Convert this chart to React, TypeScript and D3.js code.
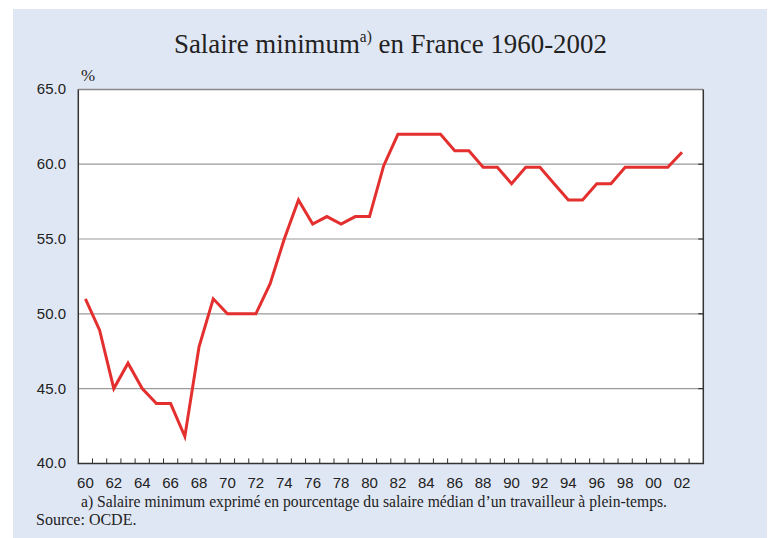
import React from 'react';
import * as d3 from 'd3';

// minimum wage as % of median full-time wage, France
const years = d3.range(1960, 2003);
const values = [
  51.0, 48.9, 45.0, 46.7, 45.0, 44.0, 44.0, 41.8, 47.8, 51.0,
  50.0, 50.0, 50.0, 52.0, 55.0, 57.6, 56.0, 56.5, 56.0, 56.5,
  56.5, 59.9, 62.0, 62.0, 62.0, 62.0, 60.9, 60.9, 59.8, 59.8,
  58.7, 59.8, 59.8, 58.7, 57.6, 57.6, 58.7, 58.7, 59.8, 59.8,
  59.8, 59.8, 60.8,
];
const yTicks = [40, 45, 50, 55, 60, 65];
const xLabels = years.filter(y => y % 2 === 0);

const W = 771;
const H = 538;
const plot = { left: 78.3, right: 703.3, top: 89.4, bottom: 463.4 };

const App = () => {
  const x = d3.scaleLinear().domain([1959.5, 2003.5]).range([plot.left, plot.right]);
  const y = d3.scaleLinear().domain([40, 65]).range([plot.bottom, plot.top]);

  const line = d3.line<number>()
    .x((_, i) => x(years[i]))
    .y(d => y(d));

  const sans = '"Liberation Sans", Arial, sans-serif';
  const serif = '"Liberation Serif", "Times New Roman", serif';

  return (
    <svg width={W} height={H} style={{ position: 'absolute', left: 0, top: 0 }}>
      <rect x={0} y={0} width={W} height={H} fill="#ffffff" />
      <text x={13} y={-4} fontFamily={serif} fontWeight="bold" fontSize={14} fill="#333">g</text>
      <rect x={13} y={9} width={754} height={H - 9} fill="#e0e7f4" />

      <g transform="translate(174,53) scale(0.96,1)">
        <text x={0} y={0} fontFamily={serif} fontSize={28} fill="#222">
          Salaire minimum
          <tspan dy={-11} fontSize={16}>a)</tspan>
          <tspan dy={11}> en France 1960-2002</tspan>
        </text>
      </g>

      <text x={88} y={81} fontFamily={serif} fontSize={17} fill="#222" textAnchor="middle">%</text>

      <rect x={plot.left} y={plot.top} width={plot.right - plot.left} height={plot.bottom - plot.top} fill="#ffffff" />

      {yTicks.filter(t => t > 40 && t < 65).map(t => (
        <g key={t}>
          <line x1={plot.left} x2={plot.right} y1={y(t)} y2={y(t)} stroke="#9a9a9a" strokeWidth={1.2} />
          <line x1={plot.right - 5} x2={plot.right} y1={y(t)} y2={y(t)} stroke="#333" strokeWidth={1.2} />
        </g>
      ))}
      <line x1={plot.left} x2={plot.right} y1={plot.top} y2={plot.top} stroke="#888" strokeWidth={1.5} />

      {years.map(yr => (
        <line key={yr} x1={x(yr + 0.5)} x2={x(yr + 0.5)} y1={plot.bottom} y2={plot.bottom - 5} stroke="#333" strokeWidth={1} />
      ))}

      <path d={`M${plot.left},${plot.top}V${plot.bottom}H${plot.right}V${plot.top}`} fill="none" stroke="#333" strokeWidth={1.5} />

      {yTicks.map(t => (
        <text key={t} x={66} y={y(t) + 5} fontFamily={sans} fontSize={15} fill="#222" textAnchor="end">
          {t.toFixed(1)}
        </text>
      ))}

      {xLabels.map(yr => (
        <text key={yr} x={x(yr)} y={488} fontFamily={sans} fontSize={15} fill="#222" textAnchor="middle">
          {String(yr % 100).padStart(2, '0')}
        </text>
      ))}

      <path d={line(values) || ''} fill="none" stroke="#e3302f" strokeWidth={3} strokeLinejoin="miter" />

      <text x={81} y={507} fontFamily={serif} fontSize={16} fill="#222" textLength={586} lengthAdjust="spacingAndGlyphs">
        a) Salaire minimum exprimé en pourcentage du salaire médian d’un travailleur à plein-temps.
      </text>
      <text x={36} y={525} fontFamily={serif} fontSize={16} fill="#222">Source: OCDE.</text>
    </svg>
  );
};

export default App;
